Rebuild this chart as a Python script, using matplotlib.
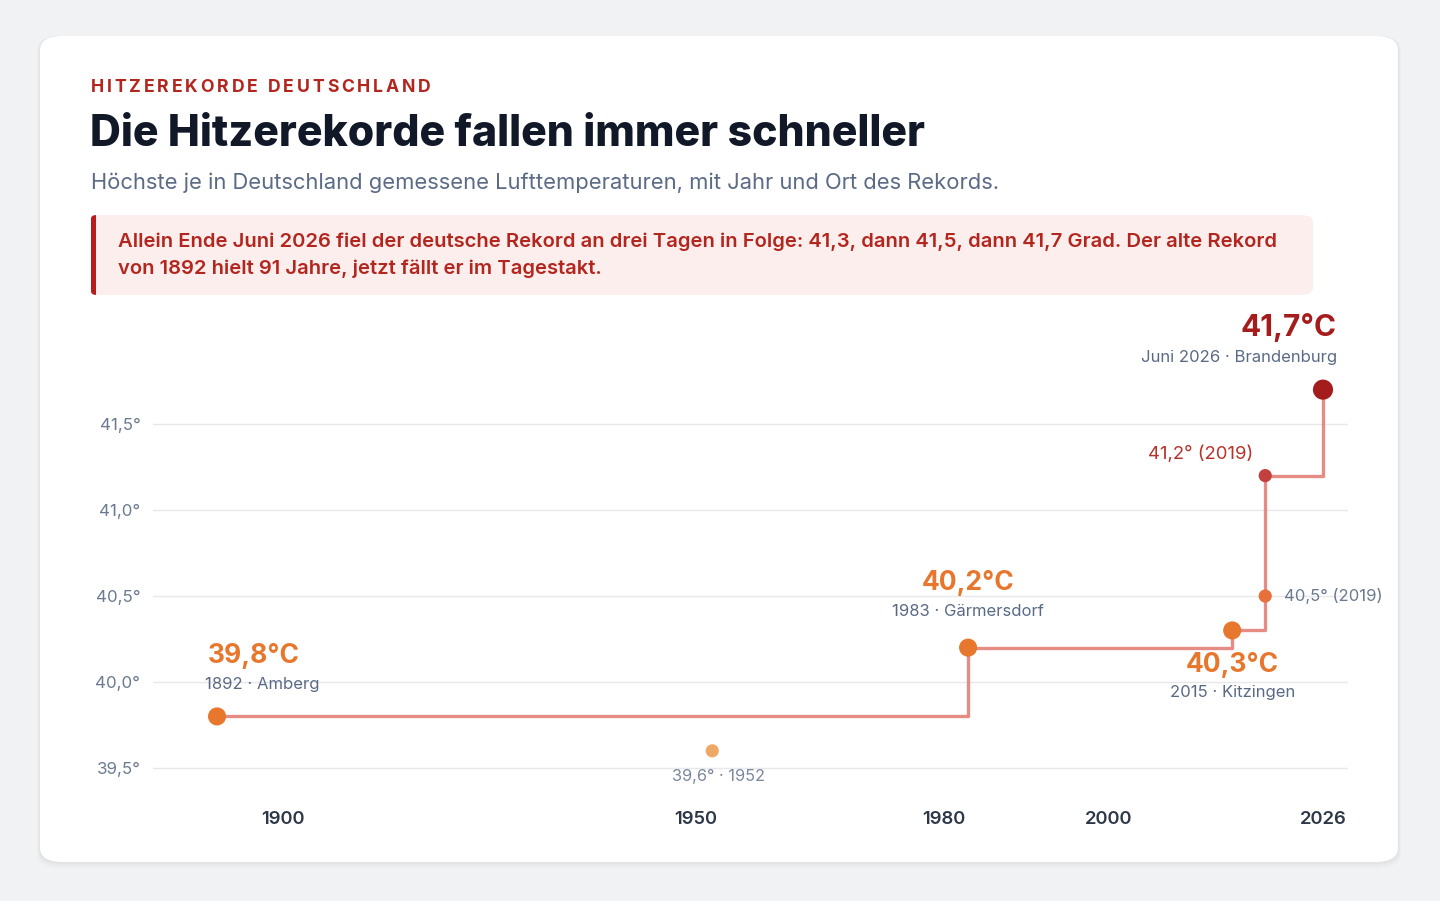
import matplotlib.pyplot as plt
from matplotlib.patches import FancyBboxPatch

plt.rcParams['font.family'] = ['Inter', 'DejaVu Sans']

# Rekordkette (Stufenlinie)
rekord_jahre = [1892, 1983, 2015, 2019, 2026]
rekord_temp = [39.8, 40.2, 40.3, 41.2, 41.7]

# einzelne Punkte
punkt_jahre = [1892, 1952, 1983, 2015, 2019, 2019, 2026]
punkt_temp = [39.8, 39.6, 40.2, 40.3, 40.5, 41.2, 41.7]
punkt_farben = ['#e8772e', '#f0a866', '#e8772e', '#e8772e', '#e8703a', '#c2403f', '#a51c1c']
punkt_groesse = [170, 90, 170, 170, 90, 90, 210]

y_ticks = [39.5, 40.0, 40.5, 41.0, 41.5]
y_labels = ['39,5°', '40,0°', '40,5°', '41,0°', '41,5°']
x_ticks = [1900, 1950, 1980, 2000, 2026]
x_labels = ['1900', '1950', '1980', '2000', '2026']

W, H = 1440, 901
fig = plt.figure(figsize=(W / 100, H / 100), dpi=100)
fig.patch.set_facecolor('#f1f2f4')
renderer = fig.canvas.get_renderer()


def fx(x):
    return x / W


def fy(y):
    return 1 - y / H


def gesperrt(x, y, s, spacing, **kw):
    # Text mit Zeichenabstand, Buchstabe fuer Buchstabe
    for ch in s:
        t = fig.text(fx(x), fy(y), ch, va='center', ha='left', **kw)
        w = t.get_window_extent(renderer).width
        if ch == ' ':
            w = kw.get('fontsize', 12) * 0.35
        x += w + spacing


# Karte mit Schatten
for i, a in enumerate([0.025, 0.02, 0.015]):
    d = 2 + i * 2
    sh = FancyBboxPatch((fx(40 - d / 2), fy(862 + d)), fx(1358 + d), (826 + d) / H,
                        boxstyle='round,pad=0,rounding_size=0.016', transform=fig.transFigure,
                        facecolor='#000000', edgecolor='none', alpha=a, zorder=0)
    fig.patches.append(sh)
card = FancyBboxPatch((fx(40), fy(862)), fx(1358), 826 / H,
                      boxstyle='round,pad=0,rounding_size=0.016', transform=fig.transFigure,
                      facecolor='white', edgecolor='none', zorder=1)
fig.patches.append(card)

# Kopfzeilen
gesperrt(91, 88, 'HITZEREKORDE DEUTSCHLAND', 2.8, color='#b3261e', fontsize=12.7,
         fontweight='bold', zorder=3)
fig.text(fx(90), fy(134), 'Die Hitzerekorde fallen immer schneller', color='#111827',
         fontsize=30.8, fontweight='heavy', va='center', ha='left', zorder=3)
fig.text(fx(91), fy(183), 'Höchste je in Deutschland gemessene Lufttemperaturen, mit Jahr und Ort des Rekords.',
         color='#5b6b86', fontsize=15.8, va='center', ha='left', zorder=3)

# Hinweisbox
box = FancyBboxPatch((fx(91), fy(295)), fx(1222), 80 / H,
                     boxstyle='round,pad=0,rounding_size=0.008', transform=fig.transFigure,
                     facecolor='#fdeeee', edgecolor='none', zorder=2)
fig.patches.append(box)
bar = FancyBboxPatch((fx(91), fy(295)), fx(10), 80 / H,
                     boxstyle='round,pad=0,rounding_size=0.004', transform=fig.transFigure,
                     facecolor='#b91c1c', edgecolor='none', zorder=2)
fig.patches.append(bar)
fig.patches.append(FancyBboxPatch((fx(96), fy(295)), fx(8), 80 / H, boxstyle='square,pad=0',
                                  transform=fig.transFigure, facecolor='#fdeeee',
                                  edgecolor='none', zorder=2))
fig.text(fx(118), fy(242), 'Allein Ende Juni 2026 fiel der deutsche Rekord an drei Tagen in Folge: 41,3, dann 41,5, dann 41,7 Grad. Der alte Rekord',
         color='#b3261e', fontsize=14.55, fontweight='semibold', va='center', ha='left', zorder=3)
fig.text(fx(118), fy(269), 'von 1892 hielt 91 Jahre, jetzt fällt er im Tagestakt.',
         color='#b3261e', fontsize=14.55, fontweight='semibold', va='center', ha='left', zorder=3)

# Diagramm
ax = fig.add_axes([fx(153), fy(800), fx(1348 - 153), (800 - 310) / H], zorder=4)
ax.set_facecolor('none')
ax.set_xlim(1884.24, 2029.03)
ax.set_ylim(39.314, 42.163)
for s in ax.spines.values():
    s.set_visible(False)
ax.set_yticks(y_ticks)
ax.set_yticklabels(y_labels, color='#6b7a90', fontsize=12.2)
ax.set_xticks(x_ticks)
ax.set_xticklabels(x_labels, color='#2d3748', fontsize=13.3, fontweight='semibold')
ax.tick_params(axis='y', length=0, pad=9)
ax.tick_params(axis='x', length=0, pad=8)
ax.grid(axis='y', color='#e6e8ec', linewidth=1)
ax.set_axisbelow(True)

ax.step(rekord_jahre, rekord_temp, where='post', color='#e57f78', linewidth=2.4, alpha=0.9, zorder=2)
ax.scatter(punkt_jahre, punkt_temp, s=punkt_groesse, c=punkt_farben, linewidths=0, zorder=3)

grau = '#5a6a85'
orange = '#e8772e'


def label(x, y, txt, dx, dy, color, size, weight='normal', ha='center'):
    ax.annotate(txt, (x, y), xytext=(dx, dy), textcoords='offset pixels', ha=ha, va='center',
                color=color, fontsize=size, fontweight=weight, annotation_clip=False)


label(1892, 39.8, '39,8°C', -9, 60, orange, 19, 'bold', 'left')
label(1892, 39.8, '1892 · Amberg', -12, 32, grau, 12, ha='left')
label(1952, 39.6, '39,6° · 1952', 6, -26, '#7a879c', 11.8)
label(1983, 40.2, '40,2°C', 0, 65, orange, 19, 'bold')
label(1983, 40.2, '1983 · Gärmersdorf', 0, 36, grau, 12)
label(2015, 40.3, '40,3°C', 0, -35, orange, 19, 'bold')
label(2015, 40.3, '2015 · Kitzingen', 0, -62, grau, 12)
label(2019, 40.5, '40,5° (2019)', 19, 0, '#6b7a90', 12, ha='left')
label(2019, 41.2, '41,2° (2019)', -12, 21, '#b8322a', 13.3, ha='right')
label(2026, 41.7, '41,7°C', 14, 62, '#a51c1c', 21.5, 'bold', 'right')
label(2026, 41.7, 'Juni 2026 · Brandenburg', 14, 32, grau, 12, ha='right')

fig.savefig('out.png', dpi=100, facecolor=fig.get_facecolor())
